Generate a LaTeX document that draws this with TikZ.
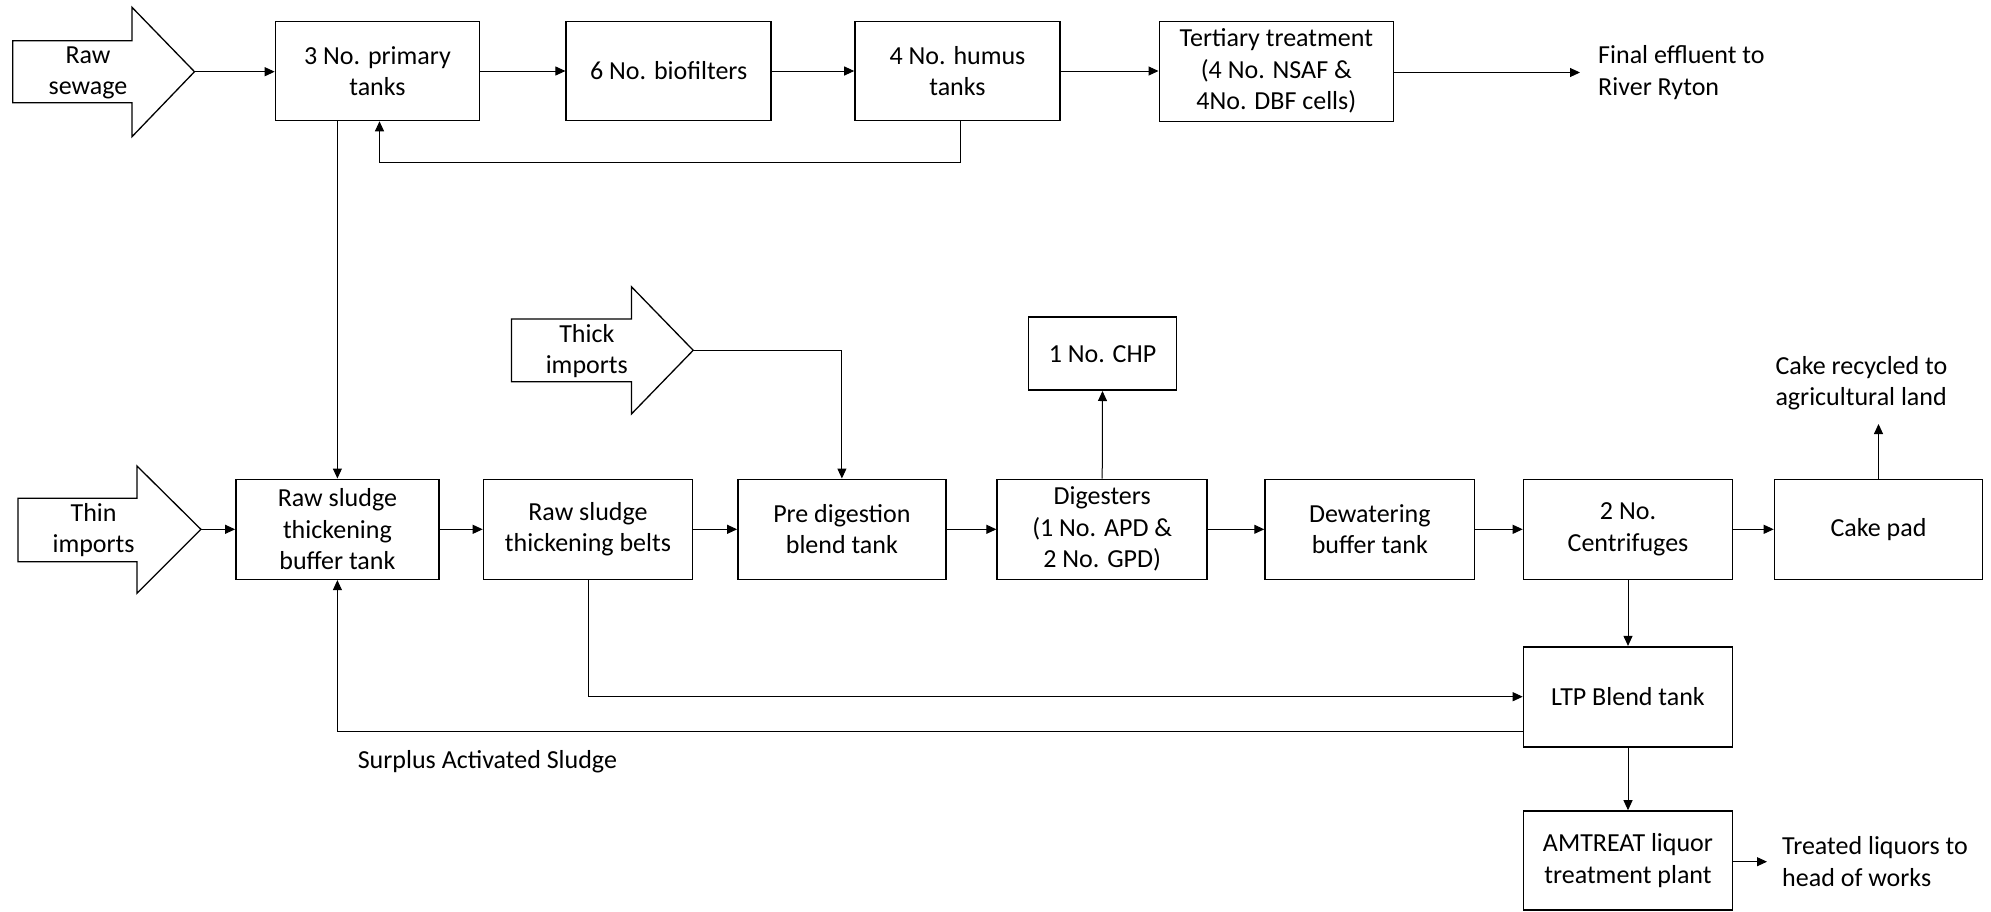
\documentclass[tikz,border=0pt]{standalone}
\usepackage{fontspec}
\setmainfont{Carlito}
\usetikzlibrary{arrows.meta}
\newcommand{\lblfont}{\fontsize{26}{31.5}\selectfont}
\tikzset{
  box/.style={draw, line width=1.6pt, inner sep=0pt, align=center, font=\lblfont},
  lbl/.style={inner sep=0pt, font=\lblfont},
  conn/.style={line width=1pt, -{Triangle[length=10pt,width=9pt]}},
  blockarrow/.style={draw, line width=1.3pt, fill=white, line join=miter}
}
\begin{document}
\begin{tikzpicture}[x=1pt,y=-1pt]
\useasboundingbox (0,0) rectangle (1991,911);

% block arrows (inputs)
\draw[blockarrow] (12.8,40.7) -- (132,40.7) -- (132,7.3) -- (194.5,71.7) -- (132,136.7) -- (132,102.7) -- (12.8,102.7) -- cycle;
\coordinate (rawtip) at (194.5,71.7);
\node[lbl, align=center] (rawlabel) at (88,73) {Raw\\sewage};

\draw[blockarrow] (17.9,498.3) -- (137,498.3) -- (137,466) -- (200.9,529.3) -- (137,593.3) -- (137,561.7) -- (17.9,561.7) -- cycle;
\coordinate (thintip) at (200.9,529.3);
\node[lbl, align=center] (thinlabel) at (93.6,530) {Thin\\imports};

\draw[blockarrow] (511.5,319) -- (631.4,319) -- (631.4,286.7) -- (693.2,350.3) -- (631.4,414) -- (631.4,381.7) -- (511.5,381.7) -- cycle;
\coordinate (thicktip) at (693.2,350.3);
\node[lbl, align=center] (thicklabel) at (586.8,351) {Thick\\imports};

% top row
\node[box, minimum width=204pt, minimum height=99pt] (primary) at (377.5,71) {3 No. primary\\tanks};
\node[box, minimum width=205pt, minimum height=99pt] (biof) at (668.7,71) {6 No. biofilters};
\node[box, minimum width=205pt, minimum height=99pt] (humus) at (957.5,71) {4 No. humus\\tanks};
\node[box, minimum width=234pt, minimum height=100pt] (tert) at (1276.3,71.3) {Tertiary treatment\\(4 No. NSAF \&\\4No. DBF cells)};
\node[lbl, anchor=west, align=left] (final) at (1598,72.5) {Final effluent to\\River Ryton};

% middle
\node[box, minimum width=148pt, minimum height=73pt] (chp) at (1102.5,353.7) {1 No. CHP};
\node[lbl, align=left] (cakelabel) at (1861.4,383.3) {Cake recycled to\\agricultural land};
\coordinate (cakeout) at (1878.5,424);

% bottom row
\node[box, minimum width=203pt, minimum height=100pt] (buffer) at (337.4,529.3) {Raw sludge\\thickening\\buffer tank};
\node[box, minimum width=209pt, minimum height=100pt] (belts) at (588,529.3) {Raw sludge\\thickening belts};
\node[box, minimum width=208pt, minimum height=100pt] (predig) at (841.9,529.3) {Pre digestion\\blend tank};
\node[box, minimum width=210pt, minimum height=100pt] (dig) at (1102.2,529.3) {Digesters\\(1 No. APD \&\\2 No. GPD)};
\node[box, minimum width=209.5pt, minimum height=100pt] (dewat) at (1369.8,529.3) {Dewatering\\buffer tank};
\node[box, minimum width=209pt, minimum height=100pt] (centr) at (1628,529.3) {2 No.\\Centrifuges};
\node[box, minimum width=208pt, minimum height=100pt] (cake) at (1878.5,529.3) {Cake pad};

\node[box, minimum width=209pt, minimum height=100pt] (ltp) at (1628,696.7) {LTP Blend tank};
\node[box, minimum width=209pt, minimum height=99pt] (amtreat) at (1628,860.5) {AMTREAT liquor\\treatment plant};
\node[lbl, anchor=west] (sas) at (357.6,761.7) {Surplus Activated Sludge};
\node[lbl, anchor=west, align=left] (treated) at (1782,861.7) {Treated liquors to\\head of works};
\coordinate (treatedin) at (1767,861.7);
\coordinate (finalin) at (1580,72.5);
\coordinate (sasout) at (1523.5,731.7);

% connectors top
\draw[conn] (rawtip) -- (primary.west |- rawtip);
\draw[conn] (primary) -- (biof);
\draw[conn] (biof) -- (humus);
\draw[conn] (humus) -- (tert.west |- humus);
\draw[conn] (tert.east |- finalin) -- (finalin);
\draw[conn] ([xshift=2.5pt]humus.south) -- ++(0,41.3) -| ([xshift=2pt]primary.south);
\draw[conn] (buffer.north |- primary.south) -- (buffer.north);

% connectors bottom
\draw[conn] (thintip) -- (buffer.west |- thintip);
\draw[conn] (buffer) -- (belts);
\draw[conn] (belts) -- (predig);
\draw[conn] (predig) -- (dig);
\draw[conn] (dig) -- (dewat);
\draw[conn] (dewat) -- (centr);
\draw[conn] (centr) -- (cake);
\draw[conn] (thicktip) -| (predig.north);
\draw[conn] (dig.north) -- (chp.south);
\draw[conn] (cake.north) -- (cakeout);
\draw[conn] (centr.south) -- (ltp.north);
\draw[conn] (belts.south) |- (ltp.west);
\draw[conn] (ltp.west |- sasout) -| (buffer.south);
\draw[conn] (ltp.south) -- (amtreat.north);
\draw[conn] (amtreat.east |- treatedin) -- (treatedin);
\end{tikzpicture}
\end{document}
